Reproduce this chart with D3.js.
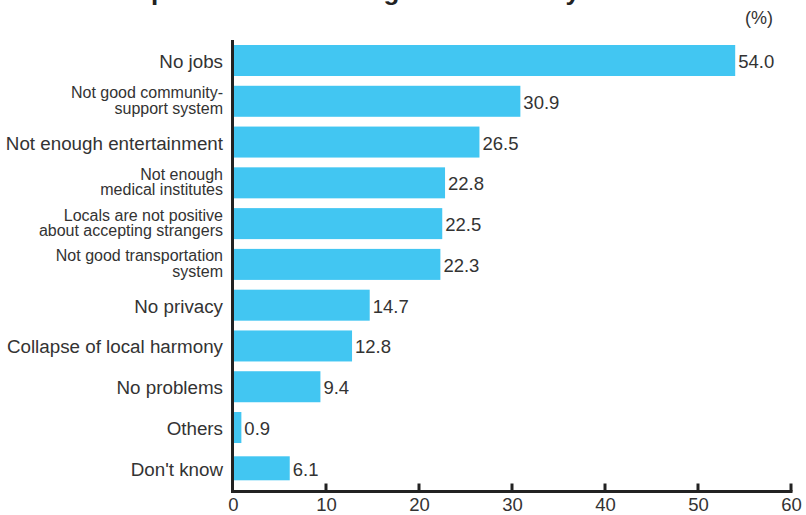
<!DOCTYPE html>
<html><head><meta charset="utf-8">
<script src="https://cdn.jsdelivr.net/npm/d3@7"></script>
<style>body{margin:0;background:#fff}svg{display:block}text{font-family:"Liberation Sans",Arial,sans-serif;fill:#333}</style>
</head><body><svg id="c" width="806" height="515"></svg>
<script>
const title = "Awareness of the problems of moving to the countryside";
const unitLabel = "(%)";
const categories = [
  ["No jobs"],
  ["Not good community-","support system"],
  ["Not enough entertainment"],
  ["Not enough","medical institutes"],
  ["Locals are not positive","about accepting strangers"],
  ["Not good transportation","system"],
  ["No privacy"],
  ["Collapse of local harmony"],
  ["No problems"],
  ["Others"],
  ["Don't know"]
];
const values = [54.0, 30.9, 26.5, 22.8, 22.5, 22.3, 14.7, 12.8, 9.4, 0.9, 6.1];
const xTicks = [0,10,20,30,40,50,60];

const svg = d3.select("#c");
const x = d3.scaleLinear().domain([0,60]).range([233,791]);
const y = d3.scalePoint().domain(d3.range(values.length)).range([60.5, 468.3]);
const axisY = 491.5;

svg.append("text").attr("x",632).attr("y",0).attr("text-anchor","end")
  .style("font-size","26px").style("font-weight","bold").style("fill","#222").text(title);
svg.append("text").attr("x",759).attr("y",24).attr("text-anchor","middle")
  .style("font-size","18px").text(unitLabel);

const bh = i => i === values.length-1 ? 24 : 31;
svg.selectAll("rect.bar").data(values).join("rect").attr("class","bar")
  .attr("x",x(0)).attr("y",(d,i)=>y(i)-bh(i)/2)
  .attr("width",d=>x(d)-x(0)).attr("height",(d,i)=>bh(i))
  .attr("fill","#42C6F2");

svg.selectAll("text.val").data(values).join("text").attr("class","val")
  .attr("x",d=>x(d)+3).attr("y",(d,i)=>y(i)+7.5)
  .style("font-size","18.5px").text(d=>d.toFixed(1));

categories.forEach((lines,i)=>{
  const t = svg.append("text").attr("text-anchor","end").attr("x",223);
  if(lines.length===1){
    t.attr("y",y(i)+7.5).style("font-size","18.8px").text(lines[0]);
  } else {
    lines.forEach((l,j)=>t.append("tspan").attr("x",223)
      .attr("y",y(i)-3+j*15.5).style("font-size","16px").text(l));
  }
});

// axes
const xAxis = d3.axisBottom(x).tickValues(xTicks).tickSize(0).tickPadding(0);
const gx = svg.append("g").attr("transform",`translate(0,${axisY})`).call(xAxis);
gx.select(".domain").remove();
gx.selectAll("text").attr("dy",null).attr("y",19.5).style("font-size","18.5px").style("fill","#333")
  .style("font-family","Liberation Sans,Arial,sans-serif");
svg.append("line").attr("x1",231).attr("x2",792.5).attr("y1",axisY).attr("y2",axisY)
  .attr("stroke","#222").attr("stroke-width",3);
svg.append("line").attr("x1",232.5).attr("x2",232.5).attr("y1",40).attr("y2",axisY+1.5)
  .attr("stroke","#222").attr("stroke-width",3);
svg.selectAll("line.tk").data(xTicks.slice(1)).join("line").attr("class","tk")
  .attr("x1",d=>x(d)).attr("x2",d=>x(d)).attr("y1",axisY-8).attr("y2",axisY)
  .attr("stroke","#222").attr("stroke-width",3);
</script></body></html>
